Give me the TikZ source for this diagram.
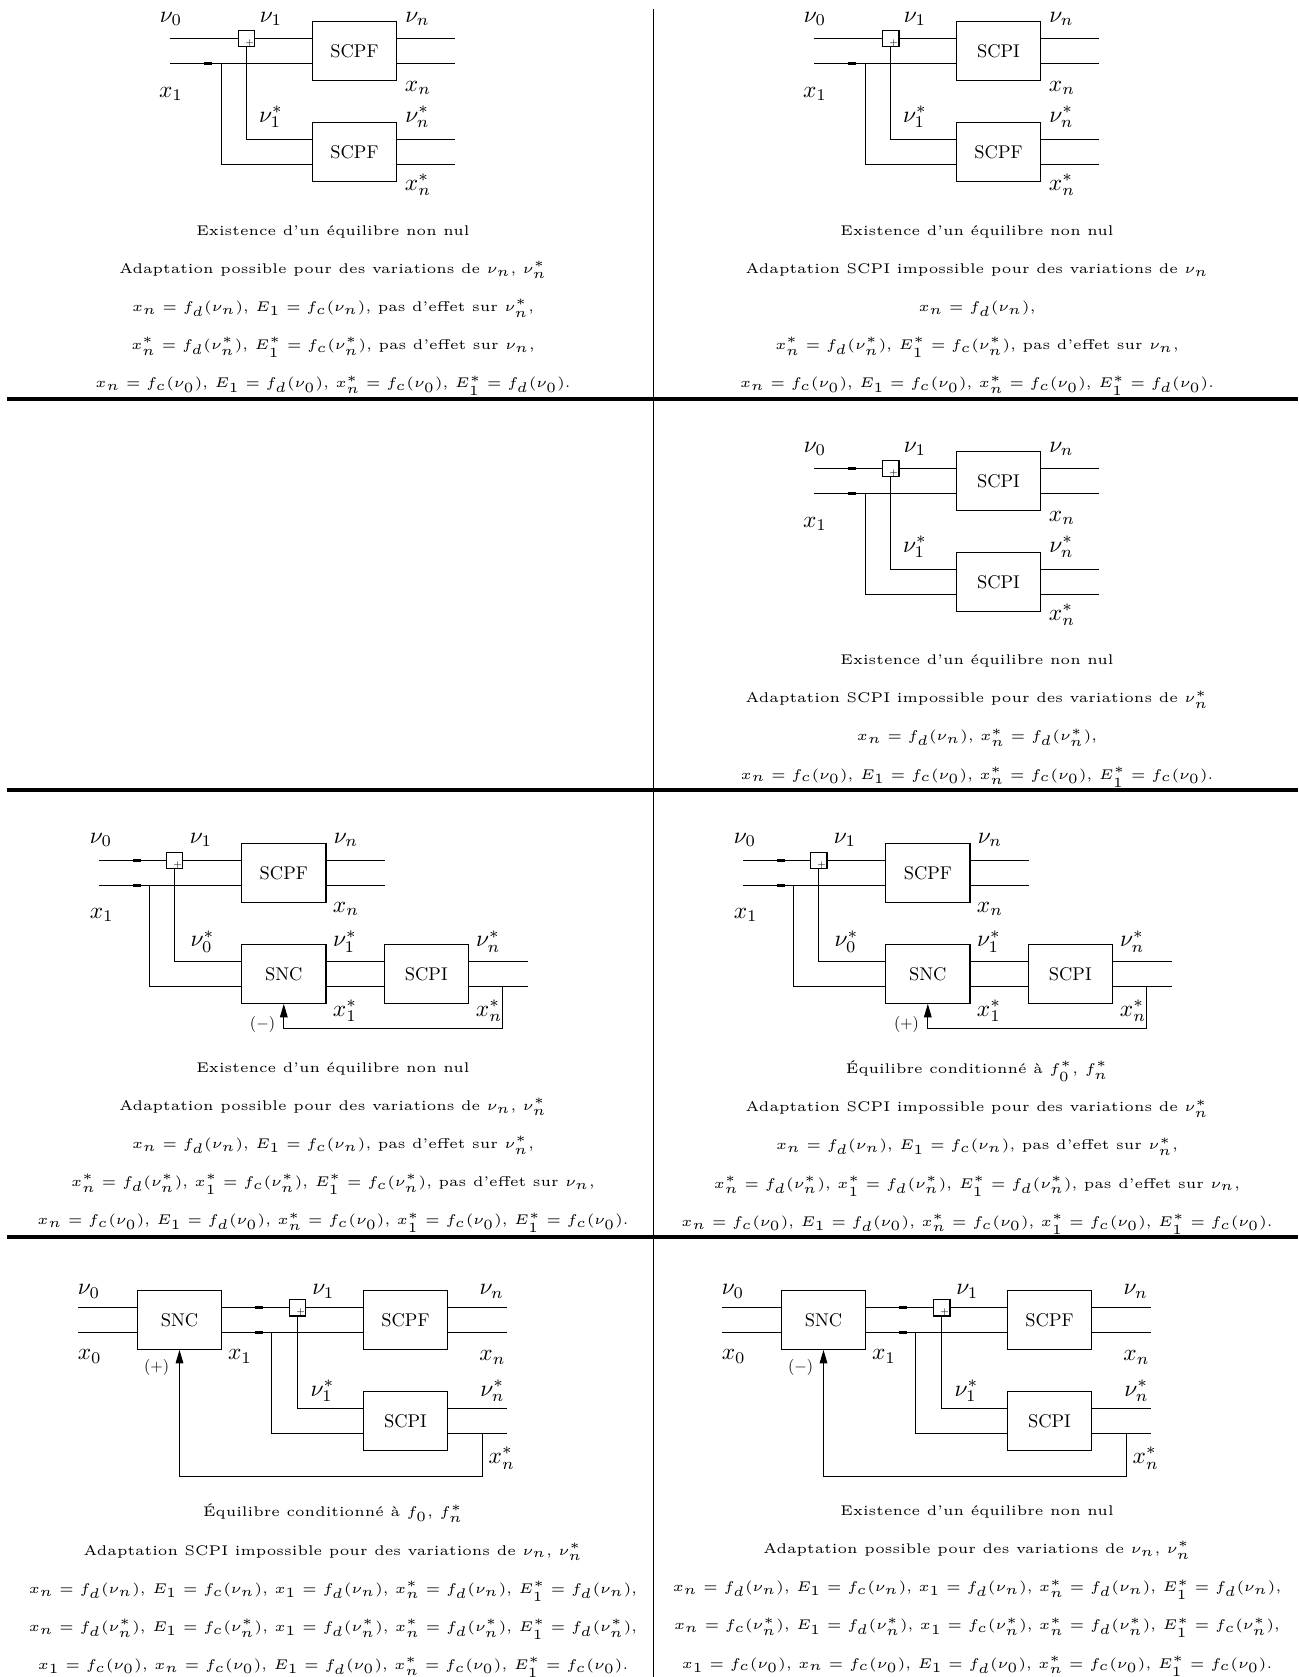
\documentclass[tikz,border=0pt]{standalone}
\usepackage{tikz}
\usetikzlibrary{arrows.meta}
\tikzset{
  >={Triangle[length=4.6pt,width=2.6pt]},
  % wires and blocks of the schemes
  wire/.style={line width=0.38pt},
  joint/.style={line width=0.8pt},
  blk/.style={
    draw,
    line width=0.38pt,
    scale=0.63,
    minimum width=45.8pt,
    minimum height=32pt,
    inner sep=0pt
  },
  sumbox/.style={
    draw,
    line width=0.35pt,
    minimum size=5.8pt,
    inner sep=0pt
  },
  plus/.style={font=\fontsize{3}{3}\selectfont, inner sep=0pt},
  lbl/.style={scale=0.8, inner sep=0pt},
  sgn/.style={scale=0.55, inner sep=0pt},
  % comments under each scheme
  txt/.style={
    font=\fontsize{5}{13.6}\selectfont,
    scale=0.96,
    align=center,
    inner sep=0pt
  },
  hsep/.style={line width=1.1pt},
  vsep/.style={line width=0.6pt}
}

\begin{document}
\begin{tikzpicture}[x=0.342pt,y=-0.342pt]
\useasboundingbox (0,0) rectangle (1298,1677);

% table rules
\draw[vsep] (653.5,9) -- (653.5,1677);
\draw[hsep] (7,399) -- (1298,399);
\draw[hsep] (7,790) -- (1298,790);
\draw[hsep] (7,1237) -- (1298,1237);

% row 1, left: SCPF / SCPF
\begin{scope}[name prefix=p1-]
\coordinate (nu0) at (170,38.5);
\coordinate (x0) at (170,63.5);
\coordinate (jx) at (221.5,63.5);
\coordinate (dx) at (208,63.5);
\coordinate (nun) at (455,38.5);
\coordinate (xn) at (455,63.5);
\coordinate (nus) at (455,139.5);
\coordinate (xs) at (455,164.5);
\node[sumbox] (sum) at (246.5,38.5) {};
\node[plus] (sumplus) at ([xshift=1.1pt,yshift=-1.5pt]sum.center) {+};
\node[blk] (up) at (354.5,51) {SCPF};
\node[blk] (lo) at (354.5,152) {SCPF};
\draw[wire] (nu0) -- (sum.west);
\draw[wire] (sum.east) -- (sum -| up.west);
\draw[wire] (x0) -- (x0 -| up.west);
\draw[joint] ([xshift=-1.4pt]dx) -- ([xshift=1.4pt]dx);
\draw[wire] (nun -| up.east) -- (nun);
\draw[wire] (xn -| up.east) -- (xn);
\draw[wire] (sum.south) |- (nus -| lo.west);
\draw[wire] (jx) |- (xs -| lo.west);
\draw[wire] (nus -| lo.east) -- (nus);
\draw[wire] (xs -| lo.east) -- (xs);
\node[lbl] (lnu0) at (171,19) {$\nu_0$};
\node[lbl] (lnu1) at (271,19) {$\nu_1$};
\node[lbl] (lnun) at (417.5,19) {$\nu_n$};
\node[lbl] (lx1) at (171,94) {$x_1$};
\node[lbl] (lxn) at (418,88) {$x_n$};
\node[lbl] (lnu1s) at (271,117) {$\nu_1^*$};
\node[lbl] (lnuns) at (417.5,117) {$\nu_n^*$};
\node[lbl] (lxns) at (418,185) {$x_n^*$};
\end{scope}

% row 1, right: SCPI / SCPF
\begin{scope}[shift={(644,0)}, name prefix=p2-]
\coordinate (nu0) at (170,38.5);
\coordinate (x0) at (170,63.5);
\coordinate (jx) at (221.5,63.5);
\coordinate (dx) at (208,63.5);
\coordinate (nun) at (455,38.5);
\coordinate (xn) at (455,63.5);
\coordinate (nus) at (455,139.5);
\coordinate (xs) at (455,164.5);
\node[sumbox] (sum) at (246.5,38.5) {};
\node[plus] (sumplus) at ([xshift=1.1pt,yshift=-1.5pt]sum.center) {+};
\node[blk] (up) at (354.5,51) {SCPI};
\node[blk] (lo) at (354.5,152) {SCPF};
\draw[wire] (nu0) -- (sum.west);
\draw[wire] (sum.east) -- (sum -| up.west);
\draw[wire] (x0) -- (x0 -| up.west);
\draw[joint] ([xshift=-1.4pt]dx) -- ([xshift=1.4pt]dx);
\draw[wire] (nun -| up.east) -- (nun);
\draw[wire] (xn -| up.east) -- (xn);
\draw[wire] (sum.south) |- (nus -| lo.west);
\draw[wire] (jx) |- (xs -| lo.west);
\draw[wire] (nus -| lo.east) -- (nus);
\draw[wire] (xs -| lo.east) -- (xs);
\node[lbl] (lnu0) at (171,19) {$\nu_0$};
\node[lbl] (lnu1) at (271,19) {$\nu_1$};
\node[lbl] (lnun) at (417.5,19) {$\nu_n$};
\node[lbl] (lx1) at (171,94) {$x_1$};
\node[lbl] (lxn) at (418,88) {$x_n$};
\node[lbl] (lnu1s) at (271,117) {$\nu_1^*$};
\node[lbl] (lnuns) at (417.5,117) {$\nu_n^*$};
\node[lbl] (lxns) at (418,185) {$x_n^*$};
\end{scope}

% row 2, right: SCPI / SCPI
\begin{scope}[shift={(644,430)}, name prefix=p4-]
\coordinate (nu0) at (170,38.5);
\coordinate (x0) at (170,63.5);
\coordinate (jx) at (221.5,63.5);
\coordinate (dn) at (208,38.5);
\coordinate (dx) at (208,63.5);
\coordinate (nun) at (455,38.5);
\coordinate (xn) at (455,63.5);
\coordinate (nus) at (455,139.5);
\coordinate (xs) at (455,164.5);
\node[sumbox] (sum) at (246.5,38.5) {};
\node[plus] (sumplus) at ([xshift=1.1pt,yshift=-1.5pt]sum.center) {+};
\node[blk] (up) at (354.5,51) {SCPI};
\node[blk] (lo) at (354.5,152) {SCPI};
\draw[wire] (nu0) -- (sum.west);
\draw[wire] (sum.east) -- (sum -| up.west);
\draw[wire] (x0) -- (x0 -| up.west);
\draw[joint] ([xshift=-1.4pt]dn) -- ([xshift=1.4pt]dn);
\draw[joint] ([xshift=-1.4pt]dx) -- ([xshift=1.4pt]dx);
\draw[wire] (nun -| up.east) -- (nun);
\draw[wire] (xn -| up.east) -- (xn);
\draw[wire] (sum.south) |- (nus -| lo.west);
\draw[wire] (jx) |- (xs -| lo.west);
\draw[wire] (nus -| lo.east) -- (nus);
\draw[wire] (xs -| lo.east) -- (xs);
\node[lbl] (lnu0) at (171,19) {$\nu_0$};
\node[lbl] (lnu1) at (271,19) {$\nu_1$};
\node[lbl] (lnun) at (417.5,19) {$\nu_n$};
\node[lbl] (lx1) at (171,94) {$x_1$};
\node[lbl] (lxn) at (418,88) {$x_n$};
\node[lbl] (lnu1s) at (271,117) {$\nu_1^*$};
\node[lbl] (lnuns) at (417.5,117) {$\nu_n^*$};
\node[lbl] (lxns) at (418,185) {$x_n^*$};
\end{scope}

% row 3, left: SCPF, SNC -> SCPI with (-) loop
\begin{scope}[name prefix=p5-]
\coordinate (nu0) at (99,860.5);
\coordinate (x0) at (99,885.5);
\coordinate (jx) at (149.5,885.5);
\coordinate (dn) at (137,860.5);
\coordinate (dx) at (137,885.5);
\coordinate (nun) at (385,860.5);
\coordinate (xn) at (385,885.5);
\coordinate (nus) at (527.7,961.5);
\coordinate (xs) at (527.7,986.5);
\coordinate (fb) at (502.5,986.5);
\coordinate (ret) at (502.5,1028.5);
\node[sumbox] (sum) at (174.5,860.5) {};
\node[plus] (sumplus) at ([xshift=1.1pt,yshift=-1.5pt]sum.center) {+};
\node[blk] (pf) at (283.8,873) {SCPF};
\node[blk] (snc) at (283.8,974) {SNC};
\node[blk] (pi) at (426.3,974) {SCPI};
\draw[wire] (nu0) -- (sum.west);
\draw[wire] (sum.east) -- (sum -| pf.west);
\draw[wire] (x0) -- (x0 -| pf.west);
\draw[joint] ([xshift=-1.4pt]dn) -- ([xshift=1.4pt]dn);
\draw[joint] ([xshift=-1.4pt]dx) -- ([xshift=1.4pt]dx);
\draw[wire] (nun -| pf.east) -- (nun);
\draw[wire] (xn -| pf.east) -- (xn);
\draw[wire] (sum.south) |- (nus -| snc.west);
\draw[wire] (jx) |- (xs -| snc.west);
\draw[wire] (nus -| snc.east) -- (nus -| pi.west);
\draw[wire] (xs -| snc.east) -- (xs -| pi.west);
\draw[wire] (nus -| pi.east) -- (nus);
\draw[wire] (xs -| pi.east) -- (xs);
\draw[wire,->] (fb) -- (ret) -| (snc.south);
\node[lbl] (lnu0) at (101,840) {$\nu_0$};
\node[lbl] (lnu1) at (201,840) {$\nu_1$};
\node[lbl] (lnun) at (346,840) {$\nu_n$};
\node[lbl] (lx1) at (101.7,915) {$x_1$};
\node[lbl] (lxn) at (346,909) {$x_n$};
\node[lbl] (lnu0s) at (202.5,941.7) {$\nu_0^*$};
\node[lbl] (lnu1s) at (345,941.7) {$\nu_1^*$};
\node[lbl] (lnuns) at (488.3,941.7) {$\nu_n^*$};
\node[lbl] (lx1s) at (345,1011) {$x_1^*$};
\node[lbl] (lxns) at (489,1011) {$x_n^*$};
\node[sgn] (sign) at (262.5,1024.5) {$(-)$};
\end{scope}

% row 3, right: same scheme with (+) loop
\begin{scope}[shift={(644,0)}, name prefix=p6-]
\coordinate (nu0) at (99,860.5);
\coordinate (x0) at (99,885.5);
\coordinate (jx) at (149.5,885.5);
\coordinate (dn) at (137,860.5);
\coordinate (dx) at (137,885.5);
\coordinate (nun) at (385,860.5);
\coordinate (xn) at (385,885.5);
\coordinate (nus) at (527.7,961.5);
\coordinate (xs) at (527.7,986.5);
\coordinate (fb) at (502.5,986.5);
\coordinate (ret) at (502.5,1028.5);
\node[sumbox] (sum) at (174.5,860.5) {};
\node[plus] (sumplus) at ([xshift=1.1pt,yshift=-1.5pt]sum.center) {+};
\node[blk] (pf) at (283.8,873) {SCPF};
\node[blk] (snc) at (283.8,974) {SNC};
\node[blk] (pi) at (426.3,974) {SCPI};
\draw[wire] (nu0) -- (sum.west);
\draw[wire] (sum.east) -- (sum -| pf.west);
\draw[wire] (x0) -- (x0 -| pf.west);
\draw[joint] ([xshift=-1.4pt]dn) -- ([xshift=1.4pt]dn);
\draw[joint] ([xshift=-1.4pt]dx) -- ([xshift=1.4pt]dx);
\draw[wire] (nun -| pf.east) -- (nun);
\draw[wire] (xn -| pf.east) -- (xn);
\draw[wire] (sum.south) |- (nus -| snc.west);
\draw[wire] (jx) |- (xs -| snc.west);
\draw[wire] (nus -| snc.east) -- (nus -| pi.west);
\draw[wire] (xs -| snc.east) -- (xs -| pi.west);
\draw[wire] (nus -| pi.east) -- (nus);
\draw[wire] (xs -| pi.east) -- (xs);
\draw[wire,->] (fb) -- (ret) -| (snc.south);
\node[lbl] (lnu0) at (101,840) {$\nu_0$};
\node[lbl] (lnu1) at (201,840) {$\nu_1$};
\node[lbl] (lnun) at (346,840) {$\nu_n$};
\node[lbl] (lx1) at (101.7,915) {$x_1$};
\node[lbl] (lxn) at (346,909) {$x_n$};
\node[lbl] (lnu0s) at (202.5,941.7) {$\nu_0^*$};
\node[lbl] (lnu1s) at (345,941.7) {$\nu_1^*$};
\node[lbl] (lnuns) at (488.3,941.7) {$\nu_n^*$};
\node[lbl] (lx1s) at (345,1011) {$x_1^*$};
\node[lbl] (lxns) at (489,1011) {$x_n^*$};
\node[sgn] (sign) at (262.5,1024.5) {$(+)$};
\end{scope}

% row 4, left: SNC in front, (+) loop from SCPI
\begin{scope}[name prefix=p7-]
\coordinate (nu0) at (78.3,1307.5);
\coordinate (x0) at (78.3,1332.5);
\coordinate (jx) at (271.5,1332.5);
\coordinate (dn) at (259,1307.5);
\coordinate (dx) at (259,1332.5);
\coordinate (nun) at (506.7,1307.5);
\coordinate (xn) at (506.7,1332.5);
\coordinate (nus) at (506.7,1408.5);
\coordinate (xs) at (506.7,1433.5);
\coordinate (fb) at (482.5,1433.5);
\coordinate (ret) at (482.5,1476.5);
\node[blk] (snc) at (179.5,1320) {SNC};
\node[sumbox] (sum) at (297.5,1307.5) {};
\node[plus] (sumplus) at ([xshift=1.1pt,yshift=-1.5pt]sum.center) {+};
\node[blk] (pf) at (405.5,1320) {SCPF};
\node[blk] (pi) at (405.5,1421) {SCPI};
\draw[wire] (nu0) -- (nu0 -| snc.west);
\draw[wire] (x0) -- (x0 -| snc.west);
\draw[wire] (nu0 -| snc.east) -- (sum.west);
\draw[wire] (sum.east) -- (sum -| pf.west);
\draw[wire] (x0 -| snc.east) -- (x0 -| pf.west);
\draw[joint] ([xshift=-1.4pt]dn) -- ([xshift=1.4pt]dn);
\draw[joint] ([xshift=-1.4pt]dx) -- ([xshift=1.4pt]dx);
\draw[wire] (nun -| pf.east) -- (nun);
\draw[wire] (xn -| pf.east) -- (xn);
\draw[wire] (sum.south) |- (nus -| pi.west);
\draw[wire] (jx) |- (xs -| pi.west);
\draw[wire] (nus -| pi.east) -- (nus);
\draw[wire] (xs -| pi.east) -- (xs);
\draw[wire,->] (fb) -- (ret) -| (snc.south);
\node[lbl] (lnu0) at (89,1291.7) {$\nu_0$};
\node[lbl] (lx0) at (89.7,1356.7) {$x_0$};
\node[lbl] (lx1) at (240,1356.7) {$x_1$};
\node[lbl] (lnu1) at (323.3,1291.7) {$\nu_1$};
\node[lbl] (lnun) at (491.7,1291.7) {$\nu_n$};
\node[lbl] (lxn) at (492.5,1357.5) {$x_n$};
\node[lbl] (lnu1s) at (322.5,1391) {$\nu_1^*$};
\node[lbl] (lnuns) at (492.5,1391) {$\nu_n^*$};
\node[lbl] (lxns) at (501.7,1458.3) {$x_n^*$};
\node[sgn] (sign) at (156.7,1367.5) {$(+)$};
\end{scope}

% row 4, right: same scheme with (-) loop
\begin{scope}[shift={(644,0)}, name prefix=p8-]
\coordinate (nu0) at (78.3,1307.5);
\coordinate (x0) at (78.3,1332.5);
\coordinate (jx) at (271.5,1332.5);
\coordinate (dn) at (259,1307.5);
\coordinate (dx) at (259,1332.5);
\coordinate (nun) at (506.7,1307.5);
\coordinate (xn) at (506.7,1332.5);
\coordinate (nus) at (506.7,1408.5);
\coordinate (xs) at (506.7,1433.5);
\coordinate (fb) at (482.5,1433.5);
\coordinate (ret) at (482.5,1476.5);
\node[blk] (snc) at (179.5,1320) {SNC};
\node[sumbox] (sum) at (297.5,1307.5) {};
\node[plus] (sumplus) at ([xshift=1.1pt,yshift=-1.5pt]sum.center) {+};
\node[blk] (pf) at (405.5,1320) {SCPF};
\node[blk] (pi) at (405.5,1421) {SCPI};
\draw[wire] (nu0) -- (nu0 -| snc.west);
\draw[wire] (x0) -- (x0 -| snc.west);
\draw[wire] (nu0 -| snc.east) -- (sum.west);
\draw[wire] (sum.east) -- (sum -| pf.west);
\draw[wire] (x0 -| snc.east) -- (x0 -| pf.west);
\draw[joint] ([xshift=-1.4pt]dn) -- ([xshift=1.4pt]dn);
\draw[joint] ([xshift=-1.4pt]dx) -- ([xshift=1.4pt]dx);
\draw[wire] (nun -| pf.east) -- (nun);
\draw[wire] (xn -| pf.east) -- (xn);
\draw[wire] (sum.south) |- (nus -| pi.west);
\draw[wire] (jx) |- (xs -| pi.west);
\draw[wire] (nus -| pi.east) -- (nus);
\draw[wire] (xs -| pi.east) -- (xs);
\draw[wire,->] (fb) -- (ret) -| (snc.south);
\node[lbl] (lnu0) at (89,1291.7) {$\nu_0$};
\node[lbl] (lx0) at (89.7,1356.7) {$x_0$};
\node[lbl] (lx1) at (240,1356.7) {$x_1$};
\node[lbl] (lnu1) at (323.3,1291.7) {$\nu_1$};
\node[lbl] (lnun) at (491.7,1291.7) {$\nu_n$};
\node[lbl] (lxn) at (492.5,1357.5) {$x_n$};
\node[lbl] (lnu1s) at (322.5,1391) {$\nu_1^*$};
\node[lbl] (lnuns) at (492.5,1391) {$\nu_n^*$};
\node[lbl] (lxns) at (501.7,1458.3) {$x_n^*$};
\node[sgn] (sign) at (156.7,1367.5) {$(-)$};
\end{scope}

% comments under the schemes
\node[txt] (txt1) at (333,310.5) {Existence d'un équilibre non nul\\
Adaptation possible pour des variations de $\nu_n$, $\nu_n^*$\\
$x_n = f_d(\nu_n)$, $E_1 = f_c(\nu_n)$, pas d'effet sur $\nu_n^*$,\\
$x_n^* = f_d(\nu_n^*)$, $E_1^* = f_c(\nu_n^*)$, pas d'effet sur $\nu_n$,\\
$x_n = f_c(\nu_0)$, $E_1 = f_d(\nu_0)$, $x_n^* = f_c(\nu_0)$, $E_1^* = f_d(\nu_0)$.};

\node[txt] (txt2) at (977,310.5) {Existence d'un équilibre non nul\\
Adaptation SCPI impossible pour des variations de $\nu_n$\\
$x_n = f_d(\nu_n)$,\\
$x_n^* = f_d(\nu_n^*)$, $E_1^* = f_c(\nu_n^*)$, pas d'effet sur $\nu_n$,\\
$x_n = f_c(\nu_0)$, $E_1 = f_c(\nu_0)$, $x_n^* = f_c(\nu_0)$, $E_1^* = f_d(\nu_0)$.};

\node[txt] (txt4) at (977,720.9) {Existence d'un équilibre non nul\\
Adaptation SCPI impossible pour des variations de $\nu_n^*$\\
$x_n = f_d(\nu_n)$, $x_n^* = f_d(\nu_n^*)$,\\
$x_n = f_c(\nu_0)$, $E_1 = f_c(\nu_0)$, $x_n^* = f_c(\nu_0)$, $E_1^* = f_c(\nu_0)$.};

\node[txt] (txt5) at (333,1147.5) {Existence d'un équilibre non nul\\
Adaptation possible pour des variations de $\nu_n$, $\nu_n^*$\\
$x_n = f_d(\nu_n)$, $E_1 = f_c(\nu_n)$, pas d'effet sur $\nu_n^*$,\\
$x_n^* = f_d(\nu_n^*)$, $x_1^* = f_c(\nu_n^*)$, $E_1^* = f_c(\nu_n^*)$, pas d'effet sur $\nu_n$,\\
$x_n = f_c(\nu_0)$, $E_1 = f_d(\nu_0)$, $x_n^* = f_c(\nu_0)$, $x_1^* = f_c(\nu_0)$, $E_1^* = f_c(\nu_0)$.};

\node[txt] (txt6) at (977,1147.5) {Équilibre conditionné à $f_0^*$, $f_n^*$\\
Adaptation SCPI impossible pour des variations de $\nu_n^*$\\
$x_n = f_d(\nu_n)$, $E_1 = f_c(\nu_n)$, pas d'effet sur $\nu_n^*$,\\
$x_n^* = f_d(\nu_n^*)$, $x_1^* = f_d(\nu_n^*)$, $E_1^* = f_d(\nu_n^*)$, pas d'effet sur $\nu_n$,\\
$x_n = f_c(\nu_0)$, $E_1 = f_d(\nu_0)$, $x_n^* = f_c(\nu_0)$, $x_1^* = f_c(\nu_0)$, $E_1^* = f_c(\nu_0)$.};

\node[txt] (txt7) at (333,1590.8) {Équilibre conditionné à $f_0$, $f_n^*$\\
Adaptation SCPI impossible pour des variations de $\nu_n$, $\nu_n^*$\\
$x_n = f_d(\nu_n)$, $E_1 = f_c(\nu_n)$, $x_1 = f_d(\nu_n)$, $x_n^* = f_d(\nu_n)$, $E_1^* = f_d(\nu_n)$,\\
$x_n = f_d(\nu_n^*)$, $E_1 = f_c(\nu_n^*)$, $x_1 = f_d(\nu_n^*)$, $x_n^* = f_d(\nu_n^*)$, $E_1^* = f_d(\nu_n^*)$,\\
$x_1 = f_c(\nu_0)$, $x_n = f_c(\nu_0)$, $E_1 = f_d(\nu_0)$, $x_n^* = f_c(\nu_0)$, $E_1^* = f_c(\nu_0)$.};

\node[txt] (txt8) at (977,1590.8) {Existence d'un équilibre non nul\\
Adaptation possible pour des variations de $\nu_n$, $\nu_n^*$\\
$x_n = f_d(\nu_n)$, $E_1 = f_c(\nu_n)$, $x_1 = f_d(\nu_n)$, $x_n^* = f_d(\nu_n)$, $E_1^* = f_d(\nu_n)$,\\
$x_n = f_c(\nu_n^*)$, $E_1 = f_d(\nu_n^*)$, $x_1 = f_c(\nu_n^*)$, $x_n^* = f_d(\nu_n^*)$, $E_1^* = f_c(\nu_n^*)$,\\
$x_1 = f_c(\nu_0)$, $x_n = f_c(\nu_0)$, $E_1 = f_d(\nu_0)$, $x_n^* = f_c(\nu_0)$, $E_1^* = f_c(\nu_0)$.};

\end{tikzpicture}
\end{document}
